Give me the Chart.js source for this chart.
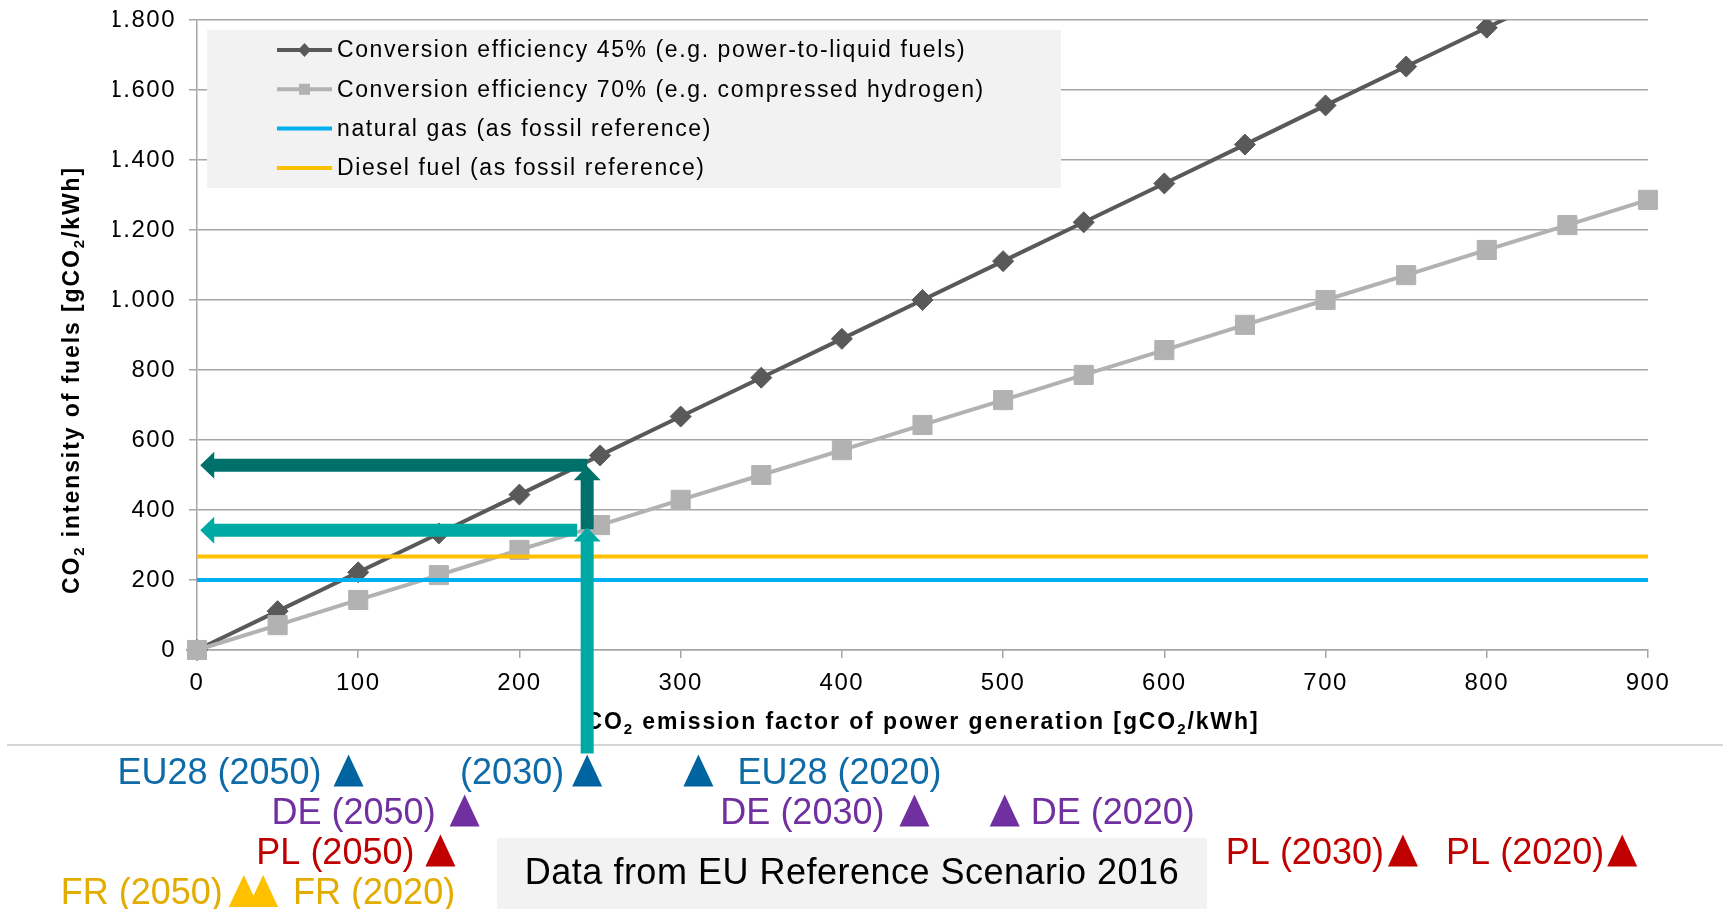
<!DOCTYPE html>
<html>
<head>
<meta charset="utf-8">
<script src="https://cdn.jsdelivr.net/npm/chart.js@4.4.1/dist/chart.umd.min.js"></script>
<style>
  html, body { margin: 0; padding: 0; background: #fff; }
  canvas { display: block; }
</style>
</head>
<body>
<canvas id="chart" width="1723" height="909"></canvas>
<script>
// x: CO2 emission factor of power generation [gCO2/kWh]
const emissionFactors = [0, 50, 100, 150, 200, 250, 300, 350, 400, 450, 500, 550, 600, 650, 700, 750, 800, 850, 900];
// y: CO2 intensity of fuels [gCO2/kWh]
const eff45Values = [0, 111, 222, 333, 444, 556, 667, 778, 889, 1000, 1111, 1222, 1333, 1444, 1556, 1667, 1778, 1889, 2000];
const eff70Values = [0, 71, 143, 214, 286, 357, 429, 500, 571, 643, 714, 786, 857, 929, 1000, 1071, 1143, 1214, 1286];
// fossil references, flat over the whole range
const refRange = [0, 900];
const naturalGasValues = [200, 200];
const dieselValues = [267, 267];

const seriesLabels = [
    'Conversion efficiency 45% (e.g. power-to-liquid fuels)',
    'Conversion efficiency 70% (e.g. compressed hydrogen)',
    'natural gas (as fossil reference)',
    'Diesel fuel (as fossil reference)'
];

const xTickLabels = ['0', '100', '200', '300', '400', '500', '600', '700', '800', '900'];
const yTickLabels = ['0', '200', '400', '600', '800', '1.000', '1.200', '1.400', '1.600', '1.800'];

// arrows: EU28 2030 emission factor -> fuel intensity
const arrowFactor = 242;
const arrowIntensity45 = 528;
const arrowIntensity70 = 342;

// country markers under the axis
const markerGroups = ['EU28', 'DE', 'PL', 'FR'];
const markerLabels = ['EU28 (2050)', '(2030)', 'EU28 (2020)', 'DE (2050)', 'DE (2030)', 'DE (2020)',
    'PL (2050)', 'PL (2030)', 'PL (2020)', 'FR (2050)', 'FR (2020)'];
const markerGroupOf = [0, 0, 0, 1, 1, 1, 2, 2, 2, 3, 3];
const markerFactors = [94, 242, 311, 166, 445, 501, 151, 748, 884, 29, 41];
const sourceNote = 'Data from EU Reference Scenario 2016';

// ---- styling / layout ----
const FONT = "'Liberation Sans', Arial, sans-serif";
const groupTextColors = ['#0f6ba8', '#7030a0', '#c00000', '#e3ac00'];
const groupTriColors = ['#0064a0', '#7030a0', '#c00000', '#ffc000'];
const rowBaselines = [783.5, 823.5, 863.5, 904];
const markerSide = ['l', 'l', 'r', 'l', 'l', 'r', 'l', 'l', 'l', 'l', 'r'];
const markerGap = [12, 8, 24, 14, 15, 11, 11, 4, 3, 6, 15];
const tealDark = '#00706a';
const tealLight = '#00aaa4';

function toPoints(xs, ys) {
    return xs.map((x, i) => ({ x: x, y: ys[i] }));
}

// 带下标的文字（CO2）
function richWidth(ctx, parts, size) {
    let w = 0;
    parts.forEach(p => {
        ctx.font = 'bold ' + (p[1] ? Math.round(size * 0.65) : size) + 'px ' + FONT;
        w += ctx.measureText(p[0]).width;
    });
    return w;
}
function drawRich(ctx, parts, x, y, size) {
    parts.forEach(p => {
        ctx.font = 'bold ' + (p[1] ? Math.round(size * 0.65) : size) + 'px ' + FONT;
        ctx.fillText(p[0], x, p[1] ? y + size * 0.22 : y);
        x += ctx.measureText(p[0]).width;
    });
}

function drawArrow(ctx, x1, y1, x2, y2, color) {
    const shaft = 13, head = 27, headLen = 14;
    const ang = Math.atan2(y2 - y1, x2 - x1);
    const len = Math.hypot(x2 - x1, y2 - y1);
    ctx.save();
    ctx.translate(x1, y1);
    ctx.rotate(ang);
    ctx.fillStyle = color;
    ctx.beginPath();
    ctx.moveTo(0, -shaft / 2);
    ctx.lineTo(len - headLen, -shaft / 2);
    ctx.lineTo(len - headLen, -head / 2);
    ctx.lineTo(len, 0);
    ctx.lineTo(len - headLen, head / 2);
    ctx.lineTo(len - headLen, shaft / 2);
    ctx.lineTo(0, shaft / 2);
    ctx.closePath();
    ctx.fill();
    ctx.restore();
}

const extrasPlugin = {
    id: 'extras',
    beforeDraw(chart) {
        chart.ctx.letterSpacing = '1.5px';
    },
    afterDraw(chart) {
        const ctx = chart.ctx;
        const xs = chart.scales.x, ys = chart.scales.y;
        const area = chart.chartArea;
        ctx.save();

        // legend box
        ctx.fillStyle = '#f2f2f2';
        ctx.fillRect(207, 30, 854, 158);
        ctx.letterSpacing = '1.6px';
        ctx.font = '23px ' + FONT;
        ctx.textBaseline = 'middle';
        ctx.textAlign = 'left';
        chart.data.datasets.forEach((ds, i) => {
            const cy = 50 + i * 39.3;
            ctx.strokeStyle = ds.borderColor;
            ctx.lineWidth = 4;
            ctx.beginPath();
            ctx.moveTo(277, cy);
            ctx.lineTo(332, cy);
            ctx.stroke();
            ctx.fillStyle = ds.borderColor;
            if (ds.pointStyle === 'rectRot') {
                ctx.beginPath();
                ctx.moveTo(304.5, cy - 7);
                ctx.lineTo(311, cy);
                ctx.lineTo(304.5, cy + 7);
                ctx.lineTo(298, cy);
                ctx.closePath();
                ctx.fill();
            } else if (ds.pointStyle === 'rect') {
                ctx.fillRect(299, cy - 5.5, 11, 11);
            }
            ctx.fillStyle = '#000';
            ctx.fillText(ds.label, 337, cy + 1);
        });

        // axis titles
        ctx.fillStyle = '#000';
        ctx.textBaseline = 'alphabetic';
        ctx.letterSpacing = '1.9px';
        const xTitle = [['CO', 0], ['2', 1], [' emission factor of power generation [gCO', 0], ['2', 1], ['/kWh]', 0]];
        const yTitle = [['CO', 0], ['2', 1], [' intensity of fuels [gCO', 0], ['2', 1], ['/kWh]', 0]];
        const tsize = 23;
        let w = richWidth(ctx, xTitle, tsize);
        drawRich(ctx, xTitle, (area.left + area.right) / 2 - w / 2, 729, tsize);
        w = richWidth(ctx, yTitle, tsize);
        ctx.save();
        ctx.translate(79, 380);
        ctx.rotate(-Math.PI / 2);
        drawRich(ctx, yTitle, -w / 2, 0, tsize);
        ctx.restore();

        // separator under the axis
        ctx.strokeStyle = '#c8c8c8';
        ctx.lineWidth = 1.5;
        ctx.beginPath();
        ctx.moveTo(7, 745);
        ctx.lineTo(chart.width, 745);
        ctx.stroke();

        // arrows
        const ax = xs.getPixelForValue(arrowFactor);
        const y45 = ys.getPixelForValue(arrowIntensity45);
        const y70 = ys.getPixelForValue(arrowIntensity70);
        const x0 = xs.getPixelForValue(2);
        drawArrow(ctx, ax, ys.getPixelForValue(arrowIntensity70 + 3), ax, y45 + 1, tealDark);
        drawArrow(ctx, ax, y45, x0, y45, tealDark);
        drawArrow(ctx, ax - 10, y70, x0, y70, tealLight);
        const rowTop = rowBaselines[0] + 3 - 32;
        drawArrow(ctx, ax, rowTop - 1, ax, ys.getPixelForValue(arrowIntensity70 + 8), tealLight);

        // country markers
        ctx.letterSpacing = '0px';
        ctx.font = '36px ' + FONT;
        ctx.textBaseline = 'alphabetic';
        markerLabels.forEach((label, i) => {
            const g = markerGroupOf[i];
            const cx = xs.getPixelForValue(markerFactors[i]);
            const base = rowBaselines[g];
            ctx.fillStyle = groupTriColors[g];
            ctx.beginPath();
            ctx.moveTo(cx - 15, base + 3);
            ctx.lineTo(cx + 15, base + 3);
            ctx.lineTo(cx, base - 29);
            ctx.closePath();
            ctx.fill();
            ctx.fillStyle = groupTextColors[g];
            if (markerSide[i] === 'l') {
                ctx.textAlign = 'right';
                ctx.fillText(label, cx - 15 - markerGap[i], base);
            } else {
                ctx.textAlign = 'left';
                ctx.fillText(label, cx + 15 + markerGap[i], base);
            }
        });

        // source note
        ctx.fillStyle = '#f2f2f2';
        ctx.fillRect(497, 838, 710, 71);
        ctx.fillStyle = '#000';
        ctx.textAlign = 'center';
        ctx.letterSpacing = '0.5px';
        ctx.fillText(sourceNote, 852, 884);

        ctx.restore();
    }
};

Chart.defaults.font.family = FONT;
Chart.defaults.color = '#000';

const gridColor = '#a6a6a6';
const markerClip = { left: 16, right: 16, bottom: 16, top: 0 };

new Chart(document.getElementById('chart'), {
    type: 'line',
    data: {
        datasets: [
            {
                label: seriesLabels[0],
                data: toPoints(emissionFactors, eff45Values),
                borderColor: '#595959',
                backgroundColor: '#595959',
                borderWidth: 4,
                pointStyle: 'rectRot',
                pointRadius: 10.5,
                pointBorderWidth: 1,
                order: 4,
                clip: markerClip
            },
            {
                label: seriesLabels[1],
                data: toPoints(emissionFactors, eff70Values),
                borderColor: '#b2b2b2',
                backgroundColor: '#b2b2b2',
                borderWidth: 4,
                pointStyle: 'rect',
                pointRadius: 13.5,
                pointBorderWidth: 1,
                order: 3,
                clip: markerClip
            },
            {
                label: seriesLabels[2],
                data: toPoints(refRange, naturalGasValues),
                borderColor: '#00b0f0',
                borderWidth: 4,
                pointRadius: 0,
                pointStyle: false,
                order: 2
            },
            {
                label: seriesLabels[3],
                data: toPoints(refRange, dieselValues),
                borderColor: '#ffc000',
                borderWidth: 4,
                pointRadius: 0,
                pointStyle: false,
                order: 1
            }
        ]
    },
    options: {
        responsive: false,
        animation: false,
        devicePixelRatio: 1,
        layout: { padding: { left: 113, right: 75, top: 20, bottom: 209 } },
        plugins: {
            legend: { display: false },
            tooltip: { enabled: false }
        },
        scales: {
            x: {
                type: 'linear',
                min: 0,
                max: 900,
                afterFit: s => { s.height = 50; },
                ticks: {
                    stepSize: 100,
                    padding: 11,
                    font: { size: 24 },
                    callback: (v, i) => xTickLabels[i]
                },
                grid: {
                    drawOnChartArea: false,
                    drawTicks: true,
                    tickLength: 8,
                    color: gridColor,
                    lineWidth: 1.5
                },
                border: { color: gridColor, width: 1.5 }
            },
            y: {
                min: 0,
                max: 1800,
                afterFit: s => {
                    s.width = 84;
                    s.paddingTop = 0;
                    s.paddingBottom = 0;
                },
                ticks: {
                    stepSize: 200,
                    padding: 13,
                    font: { size: 24 },
                    callback: (v, i) => yTickLabels[i]
                },
                grid: {
                    tickLength: 8,
                    color: gridColor,
                    lineWidth: 1.5
                },
                border: { color: gridColor, width: 1.5 }
            }
        }
    },
    plugins: [extrasPlugin]
});
</script>
</body>
</html>
